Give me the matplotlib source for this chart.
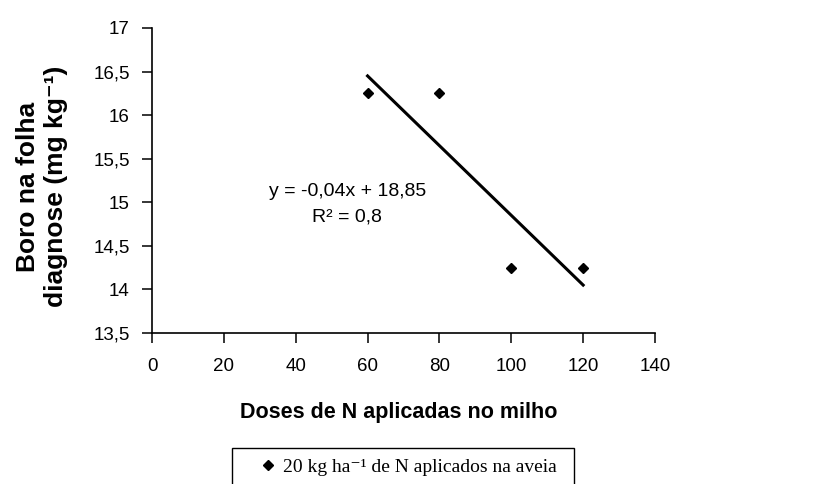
import numpy as np
import matplotlib
matplotlib.use("Agg")
import matplotlib.pyplot as plt
from matplotlib.patches import Rectangle
from matplotlib.ticker import FuncFormatter, MultipleLocator

plt.rcParams["font.family"] = ["Liberation Sans", "DejaVu Sans"]

# N doses applied to maize and boron in the diagnostic leaf
doses = [60, 80, 100, 120]
boro = [16.25, 16.25, 14.25, 14.25]
serie_label = "20 kg ha⁻¹ de N aplicados na aveia"

x_ticks = [0, 20, 40, 60, 80, 100, 120, 140]

# linear trend line
slope, intercept = np.polyfit(doses, boro, 1)
pred = np.polyval([slope, intercept], doses)
r2 = 1 - np.sum((np.array(boro) - pred) ** 2) / np.sum((np.array(boro) - np.mean(boro)) ** 2)

W, H = 834, 484


def virgula(v, pos):
    return f"{v:g}".replace(".", ",")


fig = plt.figure(figsize=(W / 100, H / 100), dpi=100)
ax = fig.add_axes([152 / W, 1 - 333 / H, 503 / W, 305 / H])

ax.plot(doses, boro, linestyle="none", marker="D", markersize=5.5,
        color="black", label=serie_label)
xl = np.array([min(doses), max(doses)])
ax.plot(xl, slope * xl + intercept, color="black", linewidth=2.2)

ax.set_xlim(0, 140)
ax.set_ylim(13.5, 17)
ax.set_xticks(x_ticks)
ax.yaxis.set_major_locator(MultipleLocator(0.5))
ax.xaxis.set_major_formatter(FuncFormatter(virgula))
ax.yaxis.set_major_formatter(FuncFormatter(virgula))

for s in ["top", "right"]:
    ax.spines[s].set_visible(False)
for s in ["left", "bottom"]:
    ax.spines[s].set_linewidth(1.2)
ax.tick_params(axis="both", direction="out", length=7, width=1.1, labelsize=13.5)
ax.tick_params(axis="x", pad=11)
ax.tick_params(axis="y", pad=9)

ax.set_xlabel("Doses de N aplicadas no milho", fontsize=15.5, fontweight="bold")
ax.xaxis.set_label_coords(0.491, -0.262)
ax.xaxis.label.set_va("center")
ax.set_ylabel("Boro na folha\ndiagnose (mg kg⁻¹)", fontsize=19,
              fontweight="bold")
ax.yaxis.set_label_coords(-0.218, 0.48)
ax.yaxis.label.set_va("center")

eq = f"y = {slope:.2f}x + {intercept:.2f}".replace(".", ",")
fig.text(348 / W, 1 - 192 / H, eq, fontsize=14, ha="center", va="center")
fig.text(347 / W, 1 - 217 / H, f"R² = {r2:.1f}".replace(".", ","),
         fontsize=14, ha="center", va="center")

# legend box, open at the bottom edge of the figure
fig.patches.append(Rectangle((232 / W, -0.02), 342 / W, 0.02 + 1 - 448 / H,
                             transform=fig.transFigure, fill=False,
                             edgecolor="black", linewidth=1.0))
fig.legend(loc="center left", bbox_to_anchor=(258 / W, 1 - 467 / H),
           frameon=False, borderpad=0, handlelength=1.0, handletextpad=0.3,
           borderaxespad=0,
           prop={"family": ["Liberation Serif", "DejaVu Serif"], "size": 14})

fig.savefig("out.png", dpi=100)
